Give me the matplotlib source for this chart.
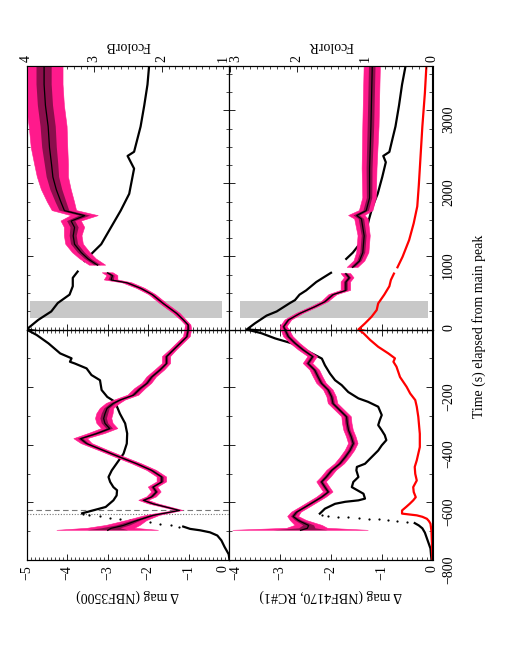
import numpy as np
import matplotlib
matplotlib.use("Agg")
import matplotlib.pyplot as plt
from matplotlib.ticker import MultipleLocator, FixedLocator
from matplotlib.transforms import ScaledTranslation

nan = np.nan

# ---------------- NBF3500 light curve (black) : time (s), delta mag
b35_t = [-800, -780, -755, -732, -715, -704, -697, -692, -684, nan,
         -638, -616, -593, -576, -558, -547, -529, -512, -489, -465,
         -431, -396, -361, -326, -292, -251, -234, -210, -176, -158,
         -135, -118, -112, -100, -83, -48, -19, 0, 132, 247,
         362, 477, 592, 707, 793, nan, 937, 1052, 1167, 1397,
         1627, 1857, 2202, 2375, 2432, 2777, 3065, 3352, 3610]
b35_mag = [0.0, -0.02, -0.12, -0.2, -0.3, -0.48, -0.72, -0.97, -1.14, nan,
           -3.63, -3.05, -2.86, -2.78, -2.77, -2.86, -2.94, -2.98, -2.90, -2.78,
           -2.61, -2.53, -2.52, -2.57, -2.70, -2.82, -3.01, -3.15, -3.19, -3.40,
           -3.52, -3.81, -3.93, -3.89, -4.17, -4.46, -4.75, -5.0, -4.71, -4.39,
           -4.23, -3.94, -3.86, -3.86, -3.74, nan, -3.57, -3.37, -3.16, -2.92,
           -2.68, -2.47, -2.35, -2.51, -2.35, -2.19, -2.10, -2.02, -1.98]
b35_rise_t = [-686, -680, -674, -669, -665, -661, -657, -653, -649, -645, -642]
b35_rise_mag = [-1.25, -1.45, -1.7, -1.95, -2.2, -2.45, -2.7, -2.95, -3.2, -3.45, -3.6]

# ---------------- FcolorB (pink, with errors)
fb_t = [-697, -690, -680, -663, -645, -628, -605, -593, -581, -564,
        -547, -529, -512, -489, -466, -443, -420, -396, -379, -361,
        -344, -326, -309, -292, -274, -257, -245, -228, -205, -187,
        -165, -141, -118, -94, -71, -48, -25, 0, 61, 130,
        220, 357, 477, 563, 638, 678, 736, 776, nan, 880,
        966, 1052, 1167, 1282, 1397, 1484, 1558, 1627, 1742, 1915,
        2087, 2260, 2490, 2777, 3065, 3352, 3610]
fb_val = [2.8, 2.75, 2.57, 2.37, 2.13, 1.74, 2.13, 2.27, 2.15, 2.08,
          2.13, 2.0, 2.0, 2.15, 2.37, 2.62, 2.86, 3.11, 3.2, 2.96,
          2.77, 2.84, 2.86, 2.84, 2.81, 2.72, 2.62, 2.42, 2.32, 2.22,
          2.15, 2.03, 1.93, 1.93, 1.83, 1.73, 1.63, 1.61, 1.61, 1.68,
          1.78, 1.98, 2.14, 2.31, 2.51, 2.75, 2.73, 2.8, nan, 2.95,
          3.09, 3.19, 3.29, 3.31, 3.29, 3.34, 3.14, 3.44, 3.49, 3.56,
          3.61, 3.63, 3.66, 3.68, 3.72, 3.74, 3.74]
fb_err = [0.75, 0.35, 0.25, 0.15, 0.1, 0.05, 0.07, 0.07, 0.07, 0.07,
          0.07, 0.07, 0.07, 0.07, 0.07, 0.07, 0.07, 0.08, 0.1, 0.12,
          0.12, 0.12, 0.12, 0.12, 0.1, 0.1, 0.08, 0.08, 0.08, 0.07,
          0.07, 0.07, 0.06, 0.06, 0.05, 0.05, 0.05, 0.05, 0.04, 0.04,
          0.05, 0.05, 0.05, 0.06, 0.07, 0.1, 0.08, 0.08, nan, 0.12,
          0.12, 0.13, 0.13, 0.13, 0.15, 0.15, 0.2, 0.18, 0.2, 0.22,
          0.23, 0.25, 0.27, 0.28, 0.28, 0.28, 0.28]

# ---------------- NBF4170 light curve (black)
b41_t = [-800, -760, -730, -705, -690, -680, -672, nan,
         -639, -622, -605, -598, -593, -587, -570, -547, -529, -512,
         -489, -477, -466, -443, -420, -402, -384, -367, -350, -332,
         -315, -297, -268, -251, -239, -228, -217, -193, -176, -153,
         -124, -101, -89, -71, -48, -31, -13, 0, 84, 190,
         247, 362, 402, 477, 535, 650, 707, 776, nan, 966,
         1052, 1167, 1340, 1512, 1685, 1857, 2087, 2289, 2375, 2430,
         2605, 2777, 3065, 3352, 3610]
b41_mag = [-0.02, -0.04, -0.1, -0.15, -0.2, -0.27, -0.35, nan,
           -2.22, -2.12, -1.92, -1.72, -1.46, -1.33, -1.36, -1.59, -1.56, -1.46,
           -1.50, -1.49, -1.33, -1.20, -1.07, -1.00, -0.91, -0.94, -1.00, -1.07,
           -1.04, -1.00, -1.07, -1.27, -1.46, -1.56, -1.66, -1.79, -1.92, -2.02,
           -2.12, -2.18, -2.31, -2.51, -2.77, -3.10, -3.37, -3.66, -3.50, -3.27,
           -3.07, -2.81, -2.71, -2.62, -2.49, -2.29, -2.16, -2.00, nan, -1.70,
           -1.57, -1.44, -1.31, -1.25, -1.18, -1.08, -0.99, -0.92, -0.97, -0.85,
           -0.79, -0.73, -0.66, -0.60, -0.53]
b41_rise_t = [-668, -664, -661, -658, -656, -654, -652, -650, -647, -643]
b41_rise_mag = [-0.5, -0.7, -0.88, -1.05, -1.25, -1.45, -1.66, -1.86, -2.05, -2.18]

# ---------------- red light curve (NBF4170 panel)
r41_t = [-800, -700, -674, -665, -657, -650, -645, -639, -628, -616,
         -605, -593, -582, -564, -547, -524, -501, -477, -454, -431,
         -408, -362, -303, -268, -245, -222, -199, -165, -129, -112,
         -100, -83, -60, -36, -13, 0, 84, 175, 266, 357,
         477, 592, 678, 765, nan, 851, 995, 1225, 1455, 1685,
         1972, 2317, 2777, 3237, 3610]
r41_mag = [0.0, -0.02, -0.04, -0.07, -0.11, -0.2, -0.31, -0.6, -0.6, -0.52,
           -0.45, -0.38, -0.33, -0.37, -0.38, -0.31, -0.34, -0.35, -0.31, -0.28,
           -0.25, -0.25, -0.28, -0.31, -0.34, -0.44, -0.51, -0.64, -0.71, -0.77,
           -0.74, -0.87, -1.07, -1.23, -1.36, -1.46, -1.33, -1.2, -1.1, -1.07,
           -0.95, -0.85, -0.82, -0.76, nan, -0.69, -0.59, -0.46, -0.37, -0.30,
           -0.27, -0.24, -0.20, -0.15, -0.12]

# ---------------- FcolorR (pink, with errors)
fr_t = [-697, -690, -680, -663, -649, -634, -616, -599, -582, -564,
        -547, -529, -512, -489, -466, -443, -420, -396, -373, -350,
        -326, -303, -280, -257, -234, -210, -187, -165, -141, -118,
        -94, -71, -48, -25, 0, 39, 130, 220, 311, 380,
        477, 535, 650, 707, 765, nan, 850, 937, 1052, 1282,
        1512, 1560, 1627, 1800, 2202, 2777, 3200, 3610]
fr_val = [1.95, 1.85, 1.83, 1.98, 2.06, 2.01, 1.88, 1.76, 1.64, 1.54,
          1.59, 1.64, 1.57, 1.49, 1.37, 1.29, 1.22, 1.17, 1.2, 1.24,
          1.26, 1.27, 1.37, 1.47, 1.49, 1.54, 1.64, 1.69, 1.74, 1.84,
          1.77, 1.91, 2.03, 2.13, 2.18, 2.2, 2.13, 1.96, 1.74, 1.59,
          1.47, 1.28, 1.28, 1.23, 1.28, nan, 1.18, 1.08, 1.03, 1.01,
          1.05, 1.12, 0.98, 0.93, 0.93, 0.91, 0.9, 0.89]
fr_err = [1.0, 0.3, 0.2, 0.12, 0.08, 0.07, 0.07, 0.07, 0.07, 0.07,
          0.07, 0.07, 0.07, 0.07, 0.07, 0.07, 0.07, 0.07, 0.07, 0.07,
          0.07, 0.07, 0.07, 0.07, 0.07, 0.07, 0.07, 0.07, 0.07, 0.07,
          0.07, 0.07, 0.07, 0.07, 0.06, 0.05, 0.05, 0.05, 0.05, 0.05,
          0.06, 0.07, 0.07, 0.07, 0.07, nan, 0.08, 0.08, 0.09, 0.09,
          0.1, 0.12, 0.1, 0.1, 0.11, 0.12, 0.12, 0.12]

# ---------------- annotations
box_t = [155, 385]
box_mag_b = [-4.91, -0.19]
box_mag_r = [-3.79, -0.08]
dash_t = -625
dot_t = -640

mag_ticks_b = [-5, -4, -3, -2, -1, 0]
mag_ticks_r = [-4, -3, -2, -1, 0]
fcb_ticks = [4, 3, 2, 1]
fcr_ticks = [3, 2, 1, 0]
t_ticks_neg = [-800, -600, -400, -200, 0]
t_ticks_pos = [1000, 2000, 3000]

PINK = '#ff1a8c'
plt.rcParams['font.family'] = ['Liberation Serif', 'DejaVu Serif']
plt.rcParams['font.size'] = 10
plt.rcParams['axes.linewidth'] = 0.8

fig = plt.figure(figsize=(5.1, 6.6), dpi=100)
XS = [26.5 / 510, 229.5 / 510, 432.5 / 510]
YS = [1 - 560 / 660, 1 - 329.5 / 660, 1 - 65.7 / 660]


def band(x0, x1, maglim, flim, mticks, fticks, labright):
    w = x1 - x0
    lo = fig.add_axes([x0, YS[0], w, YS[1] - YS[0]])
    hi = fig.add_axes([x0, YS[1], w, YS[2] - YS[1]])
    lo_f = lo.twiny()
    hi_f = hi.twiny()
    for ax in (lo, hi):
        ax.set_xlim(*maglim)
        ax.xaxis.set_major_locator(FixedLocator(mticks))
        ax.xaxis.set_minor_locator(MultipleLocator(0.1))
    for ax in (lo_f, hi_f):
        ax.set_xlim(*flim)
    lo.set_ylim(-800, 0)
    hi.set_ylim(0, 3610)
    lo.yaxis.set_major_locator(FixedLocator(t_ticks_neg))
    lo.yaxis.set_minor_locator(MultipleLocator(100))
    hi.yaxis.set_major_locator(FixedLocator(t_ticks_pos))
    hi.yaxis.set_minor_locator(MultipleLocator(250))
    lo.tick_params(which='both', direction='in', bottom=True, top=True,
                   left=True, right=True, labelbottom=True, labeltop=False,
                   labelleft=False, labelright=labright)
    hi.tick_params(which='both', direction='in', bottom=True, top=False,
                   left=True, right=True, labelbottom=False, labeltop=False,
                   labelleft=False, labelright=labright)
    for ax in (lo, hi):
        ax.tick_params(which='major', length=4, width=0.6)
        ax.tick_params(which='minor', length=2, width=0.5)
        ax.tick_params(axis='y', labelrotation=90, pad=7)
    lo.tick_params(axis='x', labelrotation=90, pad=4)
    hi_f.xaxis.set_major_locator(FixedLocator(fticks))
    hi_f.xaxis.set_minor_locator(MultipleLocator(0.1))
    hi_f.tick_params(which='both', direction='in', top=True, bottom=False,
                     labeltop=True, labelrotation=90, pad=3)
    hi_f.tick_params(which='major', length=4, width=0.6)
    hi_f.tick_params(which='minor', length=2, width=0.5)
    lo_f.tick_params(which='both', top=False, bottom=False, labeltop=False,
                     labelbottom=False)
    return lo, hi, lo_f, hi_f


# ---------- left band : NBF3500 / FcolorB
loB, hiB, loBf, hiBf = band(XS[0], XS[1], (-5, 0), (4, 1),
                            mag_ticks_b, fcb_ticks, False)
hiB.fill_betweenx(box_t, box_mag_b[0], box_mag_b[1], color='#c8c8c8',
                  lw=0, zorder=0)
loB.axhline(dash_t, color='#777777', ls=(0, (5, 3)), lw=0.8, zorder=1)
loB.axhline(dot_t, color='#777777', ls=(0, (1, 1.5)), lw=0.8, zorder=1)
fbv = np.array(fb_val, float)
fbe = np.array(fb_err, float)
for axf in (loBf, hiBf):
    axf.fill_betweenx(fb_t, fbv - fbe, fbv + fbe, color=PINK, lw=0.4,
                      edgecolor=PINK, zorder=2)
    axf.fill_betweenx(fb_t, fbv - 0.4 * fbe, fbv + 0.4 * fbe, color='black',
                      alpha=0.45, lw=0, zorder=2.5)
    axf.plot(fb_val, fb_t, color='black', lw=0.9, zorder=3)
for ax in (loB, hiB):
    ax.plot(b35_mag, b35_t, color='black', lw=1.6, zorder=3)
loB.plot(b35_rise_mag, b35_rise_t, 'o', color='black', ms=1.6, mew=0)

# ---------- right band : NBF4170 / FcolorR
loR, hiR, loRf, hiRf = band(XS[1], XS[2], (-4, 0), (3, 0),
                            mag_ticks_r, fcr_ticks, True)
hiR.fill_betweenx(box_t, box_mag_r[0], box_mag_r[1], color='#c8c8c8',
                  lw=0, zorder=0)
frv = np.array(fr_val, float)
fre = np.array(fr_err, float)
for axf in (loRf, hiRf):
    axf.fill_betweenx(fr_t, frv - fre, frv + fre, color=PINK, lw=0.4,
                      edgecolor=PINK, zorder=2)
    axf.fill_betweenx(fr_t, frv - 0.4 * fre, frv + 0.4 * fre, color='black',
                      alpha=0.45, lw=0, zorder=2.5)
    axf.plot(fr_val, fr_t, color='black', lw=0.9, zorder=3)
for ax in (loR, hiR):
    ax.plot(b41_mag, b41_t, color='black', lw=1.6, zorder=3)
    ax.plot(r41_mag, r41_t, color='#ff0000', lw=1.6, zorder=3)
loR.plot(b41_rise_mag, b41_rise_t, 'o', color='black', ms=1.6, mew=0)

hiR.yaxis.set_major_formatter(matplotlib.ticker.FuncFormatter(
    lambda v, p: f"{int(v)}"))

# nudge the coincident labels at the band boundary apart
def nudge(tick, dx_px):
    lab = tick.label1 if tick.label1.get_visible() else tick.label2
    for lb in (tick.label1, tick.label2):
        lb.set_transform(lb.get_transform() +
                         ScaledTranslation(dx_px / 100, 0, fig.dpi_scale_trans))

nudge(loB.xaxis.get_major_ticks()[-1], -6)
nudge(loR.xaxis.get_major_ticks()[0], 6)
nudge(hiBf.xaxis.get_major_ticks()[-1], -6)
nudge(hiRf.xaxis.get_major_ticks()[0], 6)

# ---------- axis titles (figure rotated by 90 degrees)
fig.text(128 / 510, 1 - 596 / 660, 'Δ mag (NBF3500)', rotation=180,
         ha='center', va='center')
fig.text(331 / 510, 1 - 596 / 660, 'Δ mag (NBF4170, RC#1)', rotation=180,
         ha='center', va='center')
fig.text(128 / 510, 1 - 46 / 660, 'FcolorB', rotation=180,
         ha='center', va='center')
fig.text(331 / 510, 1 - 46 / 660, 'FcolorR', rotation=180,
         ha='center', va='center')
fig.text(479 / 510, 1 - 326 / 660, 'Time (s) elapsed from main peak',
         rotation=90, ha='center', va='center')

fig.savefig('out.png', dpi=100)
